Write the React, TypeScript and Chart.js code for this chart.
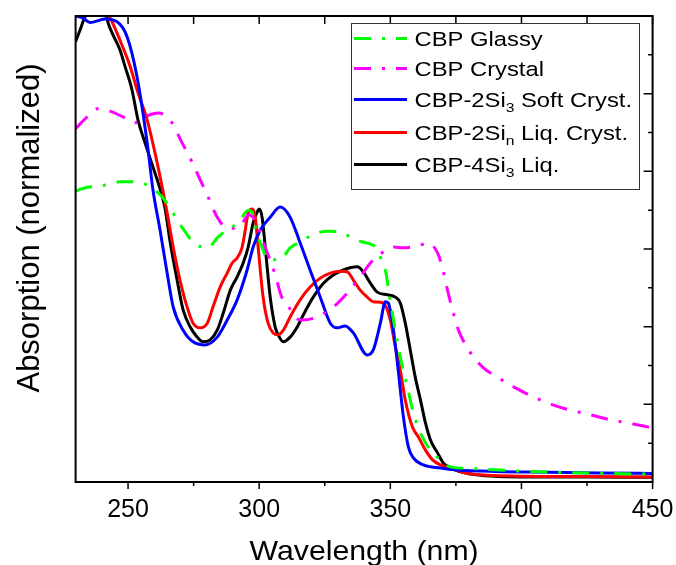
import React, { useEffect, useRef } from 'react';
import { Chart, registerables } from 'chart.js';

Chart.register(...registerables);

// ---------- data (wavelength nm, normalized absorption) ----------
const glassyX = [230, 232.4, 237.4, 242, 246.9, 253.4, 258.4, 263, 266, 268.7, 271.8, 274.8, 280.2, 284.4, 288.2, 292, 295.8, 297.3, 298.5, 301.5, 303.4, 308, 311.8, 315.6, 320.2, 325.9, 330.9, 336.7, 341.2, 344.3, 346.2, 348.1, 349.2, 351.2, 353.8, 356.5, 358.8, 362.2, 365.3, 369.1, 372.9, 380, 400, 425, 450];
const glassyY = [0.749, 0.755, 0.762, 0.765, 0.773, 0.773, 0.760, 0.734, 0.706, 0.675, 0.644, 0.618, 0.603, 0.631, 0.652, 0.667, 0.700, 0.695, 0.657, 0.597, 0.572, 0.572, 0.603, 0.618, 0.636, 0.646, 0.644, 0.623, 0.615, 0.605, 0.579, 0.546, 0.502, 0.417, 0.322, 0.245, 0.178, 0.116, 0.082, 0.057, 0.039, 0.035, 0.028, 0.023, 0.020];

const crystalX = [230, 234.4, 238.2, 243.1, 248.1, 252.7, 257.3, 261.5, 266, 271, 274.4, 277.5, 280.2, 284, 288, 292.5, 296, 299, 301.7, 305.9, 308.6, 310.5, 313.5, 316.2, 322.1, 328.3, 333.6, 338.5, 342.4, 346.2, 351.2, 355, 360.4, 364.5, 368, 369.9, 371.8, 373.7, 376, 378.7, 381.7, 385.5, 390.8, 397, 404.6, 412.2, 418.7, 426.4, 434, 440.5, 448.1, 450];
const crystalY = [0.910, 0.940, 0.961, 0.955, 0.940, 0.925, 0.943, 0.950, 0.932, 0.868, 0.824, 0.778, 0.739, 0.682, 0.653, 0.657, 0.688, 0.667, 0.615, 0.538, 0.476, 0.461, 0.425, 0.417, 0.425, 0.451, 0.487, 0.528, 0.564, 0.587, 0.605, 0.603, 0.608, 0.615, 0.590, 0.551, 0.494, 0.443, 0.391, 0.353, 0.322, 0.294, 0.270, 0.245, 0.219, 0.198, 0.185, 0.173, 0.160, 0.152, 0.142, 0.139];

const softX = [230, 232.8, 235.5, 241.2, 245.8, 249.6, 253.4, 257.3, 259.5, 262.2, 264.9, 267.2, 271, 274.8, 279.4, 284, 287.8, 291.6, 295.4, 297.7, 300.4, 304.2, 308, 311.8, 315.6, 319.4, 323.3, 327.1, 329.8, 332.8, 335.9, 341.2, 343.5, 346.2, 348.1, 349.2, 351.2, 353, 355, 356.9, 358.8, 362.6, 369.1, 375.6, 390, 410, 430, 450];
const softY = [1.200, 1.195, 1.183, 1.192, 1.185, 1.147, 1.044, 0.873, 0.752, 0.649, 0.538, 0.451, 0.391, 0.361, 0.353, 0.373, 0.417, 0.469, 0.546, 0.605, 0.649, 0.682, 0.708, 0.682, 0.616, 0.546, 0.476, 0.409, 0.397, 0.402, 0.384, 0.327, 0.340, 0.409, 0.464, 0.461, 0.391, 0.288, 0.167, 0.090, 0.062, 0.044, 0.036, 0.031, 0.027, 0.025, 0.023, 0.022];

const liqCrystX = [230, 236, 242.8, 246.9, 250.8, 253.8, 257.3, 260.3, 263, 264.9, 267.2, 269.8, 272.5, 274.8, 277.5, 280.2, 282.4, 285.1, 287.8, 289.7, 291.6, 293.5, 294.7, 295.8, 297.3, 298.5, 299.6, 301.5, 303.4, 305.3, 307.3, 309.2, 311.8, 315.6, 319.4, 323.3, 327.1, 330.9, 333.6, 335.9, 338.5, 341.2, 343.5, 347.3, 350, 351.9, 353.8, 355.7, 358.4, 360.7, 363.4, 366.1, 369.1, 372.9, 380, 400, 425, 450];
const liqCrystY = [1.300, 1.260, 1.200, 1.138, 1.070, 1.002, 0.932, 0.847, 0.760, 0.693, 0.605, 0.520, 0.451, 0.409, 0.397, 0.409, 0.451, 0.502, 0.538, 0.564, 0.577, 0.605, 0.649, 0.693, 0.703, 0.682, 0.605, 0.476, 0.409, 0.384, 0.379, 0.391, 0.425, 0.469, 0.502, 0.525, 0.538, 0.543, 0.541, 0.520, 0.494, 0.476, 0.464, 0.461, 0.417, 0.348, 0.288, 0.211, 0.142, 0.116, 0.082, 0.057, 0.044, 0.036, 0.021, 0.015, 0.014, 0.013];

const liqX = [230, 231.7, 233.6, 237, 241, 242.4, 244.3, 246.9, 248.9, 251.5, 253.8, 256.5, 259.5, 262.2, 264.1, 266, 268.7, 271, 273.7, 276.4, 278.6, 281.3, 284, 286.3, 289, 291.6, 293.9, 295.8, 297.7, 299.2, 300, 301.1, 302.3, 304.2, 306.1, 306.9, 309.2, 311.8, 314.5, 316.8, 320.6, 324.5, 328.3, 332.1, 337.4, 339.7, 342.4, 345, 348.9, 351.9, 353.8, 355.7, 357.6, 359.5, 361.5, 363.4, 365.3, 368, 370.2, 372.9, 380, 400, 425, 450];
const liqY = [1.134, 1.164, 1.198, 1.220, 1.220, 1.182, 1.151, 1.113, 1.069, 1.010, 0.932, 0.873, 0.811, 0.755, 0.705, 0.620, 0.520, 0.443, 0.399, 0.373, 0.361, 0.366, 0.391, 0.435, 0.494, 0.528, 0.564, 0.605, 0.667, 0.695, 0.703, 0.682, 0.605, 0.476, 0.399, 0.384, 0.361, 0.373, 0.399, 0.430, 0.476, 0.512, 0.533, 0.546, 0.554, 0.541, 0.512, 0.489, 0.482, 0.476, 0.461, 0.409, 0.340, 0.270, 0.211, 0.152, 0.108, 0.075, 0.049, 0.036, 0.021, 0.013, 0.013, 0.012];

const seriesLabels = ['CBP Glassy', 'CBP Crystal', 'CBP-2Si3 Soft Cryst.', 'CBP-2Sin Liq. Cryst.', 'CBP-4Si3 Liq.'];
// legend text split into [text, isSubscript] parts
const legendParts: [string, boolean][][] = [
  [['CBP Glassy', false]],
  [['CBP Crystal', false]],
  [['CBP-2Si', false], ['3', true], [' Soft Cryst.', false]],
  [['CBP-2Si', false], ['n', true], [' Liq. Cryst.', false]],
  [['CBP-4Si', false], ['3', true], [' Liq.', false]],
];

const xMin = 230;
const xMax = 450;
const yMin = 0;
const yMax = 1.2;
const xMajorTicks = [250, 300, 350, 400, 450];
const xMinorTicks = [275, 325, 375, 425];
const yMajorTicks = [0, 0.2, 0.4, 0.6, 0.8, 1.0, 1.2];
const yMinorTicks = [0.1, 0.3, 0.5, 0.7, 0.9, 1.1];
const xTitle = 'Wavelength (nm)';
const yTitle = 'Absorption (normalized)';

const FONT = '"Liberation Sans", Arial, Helvetica, sans-serif';
const DASHDOT = [17, 11, 3, 11];

function pts(xs: number[], ys: number[]) {
  return xs.map((x, i) => ({ x, y: ys[i] }));
}

function drawStretched(ctx: CanvasRenderingContext2D, text: string, x: number, y: number, size: number, sx: number) {
  ctx.save();
  ctx.font = `${size}px ${FONT}`;
  const w = ctx.measureText(text).width * sx;
  ctx.translate(x, y);
  ctx.scale(sx, 1);
  ctx.fillText(text, 0, 0);
  ctx.restore();
  return w;
}

const framePlugin = {
  id: 'frameAndLegend',
  afterDatasetsDraw(chart: any) {
    const { ctx, chartArea: a, scales } = chart;
    const xs = scales.x;
    const ys = scales.y;
    ctx.save();
    // ticks
    ctx.strokeStyle = '#000';
    ctx.lineWidth = 1.5;
    ctx.beginPath();
    for (const v of xMajorTicks) {
      const p = xs.getPixelForValue(v);
      ctx.moveTo(p, a.bottom); ctx.lineTo(p, a.bottom + 7);
      ctx.moveTo(p, a.top); ctx.lineTo(p, a.top + 8);
    }
    for (const v of xMinorTicks) {
      const p = xs.getPixelForValue(v);
      ctx.moveTo(p, a.bottom); ctx.lineTo(p, a.bottom + 4);
      ctx.moveTo(p, a.top); ctx.lineTo(p, a.top + 8);
    }
    for (const v of yMajorTicks) {
      const p = ys.getPixelForValue(v);
      ctx.moveTo(a.right, p); ctx.lineTo(a.right - 9, p);
    }
    for (const v of yMinorTicks) {
      const p = ys.getPixelForValue(v);
      ctx.moveTo(a.right, p); ctx.lineTo(a.right - 4.5, p);
    }
    ctx.stroke();
    // frame
    ctx.lineWidth = 2;
    ctx.strokeRect(a.left, a.top, a.right - a.left, a.bottom - a.top);

    // legend
    const lx = 351, ly = 23, lw = 288, lh = 166;
    ctx.fillStyle = '#fff';
    ctx.fillRect(lx, ly, lw, lh);
    ctx.strokeStyle = '#333';
    ctx.lineWidth = 1;
    ctx.strokeRect(lx + 0.5, ly + 0.5, lw, lh);
    const baselines = [46, 76, 107, 140, 172];
    chart.data.datasets.forEach((ds: any, i: number) => {
      const base = baselines[i];
      const yl = base - 7.5;
      ctx.save();
      ctx.strokeStyle = ds.borderColor;
      ctx.lineWidth = ds.borderWidth;
      ctx.setLineDash(ds.borderDash || []);
      ctx.beginPath();
      ctx.moveTo(354, yl);
      ctx.lineTo(407, yl);
      ctx.stroke();
      ctx.restore();
      ctx.fillStyle = '#000';
      ctx.textBaseline = 'alphabetic';
      ctx.textAlign = 'left';
      let cx = 414.5;
      for (const [t, sub] of legendParts[i]) {
        if (sub) cx += drawStretched(ctx, t, cx, base + 5, 13.5, 1.16);
        else cx += drawStretched(ctx, t, cx, base, 20.5, 1.16);
      }
    });

    // axis titles
    ctx.fillStyle = '#000';
    ctx.textAlign = 'center';
    ctx.textBaseline = 'alphabetic';
    ctx.save();
    ctx.font = `28px ${FONT}`;
    ctx.translate((a.left + a.right) / 2, 560);
    ctx.scale(1.08, 1);
    ctx.fillText(xTitle, 0, 0);
    ctx.restore();

    ctx.save();
    ctx.font = `31px ${FONT}`;
    ctx.textBaseline = 'middle';
    ctx.translate(30, 228);
    ctx.rotate(-Math.PI / 2);
    ctx.fillText(yTitle, 0, 0);
    ctx.restore();

    ctx.restore();
  },
};

export default function App() {
  const ref = useRef<HTMLCanvasElement>(null);
  useEffect(() => {
    const solid = { borderWidth: 3, pointRadius: 0, cubicInterpolationMode: 'monotone' as const, fill: false };
    const chart = new Chart(ref.current!, {
      type: 'line',
      data: {
        datasets: [
          { label: seriesLabels[0], data: pts(glassyX, glassyY), borderColor: '#00ff00', borderDash: DASHDOT, ...solid },
          { label: seriesLabels[1], data: pts(crystalX, crystalY), borderColor: '#ff00ff', borderDash: DASHDOT, ...solid },
          { label: seriesLabels[2], data: pts(softX, softY), borderColor: '#0000ff', ...solid },
          { label: seriesLabels[3], data: pts(liqCrystX, liqCrystY), borderColor: '#ff0000', ...solid },
          { label: seriesLabels[4], data: pts(liqX, liqY), borderColor: '#000000', ...solid },
        ],
      },
      options: {
        animation: false,
        responsive: false,
        devicePixelRatio: 1,
        layout: { padding: { left: 75.6, right: 23.4, top: 16, bottom: 0 } },
        plugins: { legend: { display: false }, tooltip: { enabled: false } },
        scales: {
          x: {
            type: 'linear',
            min: xMin,
            max: xMax,
            afterBuildTicks: (s: any) => { s.ticks = xMajorTicks.map((v) => ({ value: v })); },
            afterFit: (s: any) => { s.height = 83; s.paddingLeft = 0; s.paddingRight = 0; },
            ticks: { color: '#000', font: { family: FONT, size: 25 }, padding: 13, autoSkip: false, maxRotation: 0 },
            grid: { display: false, drawTicks: false },
            border: { display: false },
          },
          y: { type: 'linear', display: false, min: yMin, max: yMax },
        },
      },
      plugins: [framePlugin],
    });
    return () => chart.destroy();
  }, []);
  return (
    <canvas
      ref={ref}
      width={676}
      height={565}
      style={{ position: 'absolute', left: 0, top: 0, width: 676, height: 565, display: 'block' }}
    />
  );
}
